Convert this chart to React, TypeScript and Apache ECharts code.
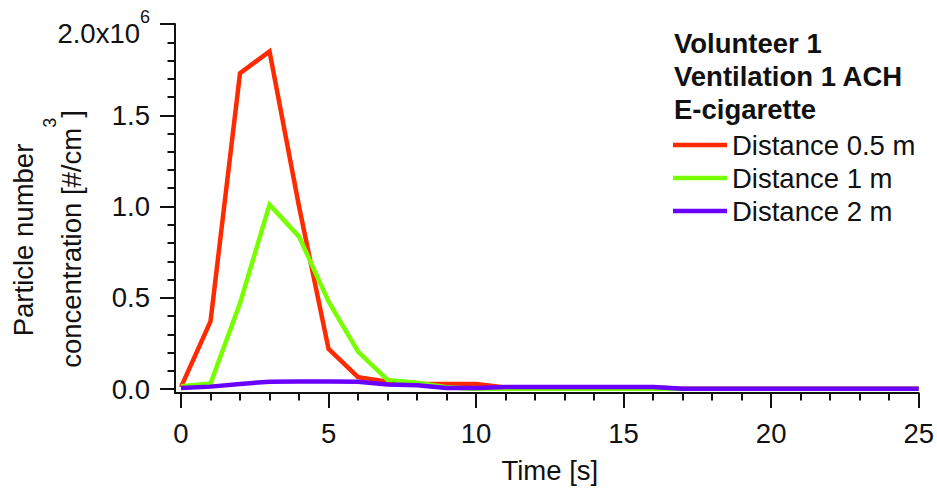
import React, { useEffect, useRef } from "react";
import * as echarts from "echarts";

// Time after the puff, seconds
const TIME_S = [0, 1, 2, 3, 4, 5, 6, 7, 8, 9, 10, 11, 12, 13, 14, 15, 16, 17, 18, 19, 20, 21, 22, 23, 24, 25];

// Particle number concentration [#/cm3] at each distance from the volunteer
const CONC_05M = [10000, 370000, 1730000, 1850000, 1000000, 220000, 65000, 40000, 28000, 27000, 27000, 8000, 8000, 8000, 8000, 8000, 8000, 2000, 2000, 2000, 2000, 2000, 2000, 2000, 2000, 2000];
const CONC_1M = [15000, 30000, 470000, 1010000, 835000, 480000, 205000, 50000, 35000, 10000, 0, 0, 0, 0, 0, 0, 0, 0, 0, 0, 0, 0, 0, 0, 0, 0];
const CONC_2M = [5000, 13000, 28000, 40000, 41000, 41000, 40000, 25000, 21000, 6000, 6000, 11000, 11000, 11000, 11000, 11000, 11000, 2000, 2000, 2000, 2000, 2000, 2000, 2000, 2000, 2000];

const SERIES_NAMES = ["Distance 0.5 m", "Distance 1 m", "Distance 2 m"];
const SERIES_COLORS = ["#ff2a00", "#77ff00", "#6a00ff"];
const TITLE_LINES = ["Volunteer 1", "Ventilation 1 ACH", "E-cigarette"];

const FONT = "'Liberation Sans', Arial, sans-serif";
const FS = 27.5;
const INK = "#111";

export default function App() {
  const ref = useRef<HTMLDivElement>(null);

  useEffect(() => {
    if (!ref.current) return;
    const chart = echarts.init(ref.current, undefined, { renderer: "svg" });

    const pairs = (ys: number[]) => TIME_S.map((t, i) => [t, ys[i]]);
    const allSeries = [CONC_05M, CONC_1M, CONC_2M].map((ys, i) => ({
      name: SERIES_NAMES[i],
      type: "line" as const,
      data: pairs(ys),
      symbol: "none",
      showSymbol: false,
      lineStyle: { width: 4.5, color: SERIES_COLORS[i], join: "miter" as const },
      itemStyle: { color: SERIES_COLORS[i] },
    }));

    const yLabel = (v: number) => {
      const m = v / 1e6;
      if (v > 0 && Math.abs(m - 2) < 1e-9) {
        return `{b|${m.toFixed(1)}x10}{s|${Math.round(Math.log10(1e6))}}`;
      }
      return m.toFixed(1);
    };

    chart.setOption({
      animation: false,
      backgroundColor: "#fff",
      textStyle: { fontFamily: FONT, color: INK },
      grid: { left: 181, right: 16, top: 24, bottom: 102, containLabel: false },
      title: {
        text: TITLE_LINES.join("\n"),
        left: 674,
        top: 27,
        padding: 0,
        textStyle: { fontFamily: FONT, fontSize: FS, fontWeight: "bold", color: INK, lineHeight: 33 },
      },
      legend: {
        orient: "vertical",
        left: 673,
        top: 131,
        padding: 0,
        itemGap: 5,
        itemWidth: 54,
        itemHeight: 4.5,
        icon: "rect",
        data: SERIES_NAMES,
        textStyle: { fontFamily: FONT, fontSize: FS, color: INK, lineHeight: 28 },
      },
      xAxis: {
        type: "value",
        min: 0,
        max: 25,
        interval: 5,
        offset: 4,
        name: "Time [s]",
        nameLocation: "middle",
        nameGap: 63,
        nameTextStyle: { fontFamily: FONT, fontSize: FS, color: INK, lineHeight: 28 },
        splitLine: { show: false },
        axisLine: { show: true, onZero: false, lineStyle: { color: INK, width: 2 } },
        axisTick: { show: true, length: 15, lineStyle: { color: INK, width: 2 } },
        minorTick: { show: true, splitNumber: 5, length: 7.5, lineStyle: { color: INK, width: 2 } },
        axisLabel: { margin: 26, fontFamily: FONT, fontSize: FS, color: INK, lineHeight: 28 },
      },
      yAxis: {
        type: "value",
        min: 0,
        max: 2000000,
        interval: 500000,
        offset: 6,
        splitLine: { show: false },
        axisLine: { show: true, onZero: false, lineStyle: { color: INK, width: 2 } },
        axisTick: { show: true, length: 15, lineStyle: { color: INK, width: 2 } },
        minorTick: { show: true, splitNumber: 5, length: 7.5, lineStyle: { color: INK, width: 2 } },
        axisLabel: {
          margin: 25,
          fontFamily: FONT,
          fontSize: FS,
          color: INK,
          formatter: yLabel,
          rich: {
            b: { fontFamily: FONT, fontSize: FS, color: INK, padding: [18, 0, 0, 0], verticalAlign: "bottom" },
            s: { fontFamily: FONT, fontSize: 18, color: INK, padding: [7, 0, 0, 0], verticalAlign: "top" },
          },
        },
      },
      series: allSeries,
    });

    // y-axis title (two rotated lines) and the joint where the offset axes meet
    const origin = chart.convertToPixel({ gridIndex: 0 }, [0, 0]) as number[];
    const ox = origin[0] - 6;
    const oy = origin[1] + 4;
    chart.setOption({
      graphic: [
        {
          type: "text",
          x: 23.5,
          y: 240,
          rotation: Math.PI / 2,
          style: {
            text: "Particle number",
            fontFamily: FONT,
            fontSize: FS,
            fill: INK,
            align: "center",
            verticalAlign: "middle",
          },
        },
        {
          type: "text",
          x: 63.4,
          y: 239,
          rotation: Math.PI / 2,
          style: {
            text: "{b|concentration [#/cm}{s|3}{b|]}",
            fontFamily: FONT,
            fontSize: FS,
            fill: INK,
            align: "center",
            verticalAlign: "middle",
            rich: {
              b: { fontFamily: FONT, fontSize: FS, fill: INK, verticalAlign: "bottom" },
              s: { fontFamily: FONT, fontSize: 18, fill: INK, padding: [0, 0, 26.75, 0], verticalAlign: "top" },
            },
          },
        },
        {
          type: "polyline",
          shape: { points: [[ox, origin[1] - 1], [ox, oy], [origin[0] + 1, oy]] },
          style: { stroke: INK, lineWidth: 2, fill: "none" },
          silent: true,
        },
      ],
    });

    return () => chart.dispose();
  }, []);

  return (
    <div
      ref={ref}
      style={{ position: "absolute", left: 0, top: 0, width: 937, height: 491 }}
    />
  );
}
